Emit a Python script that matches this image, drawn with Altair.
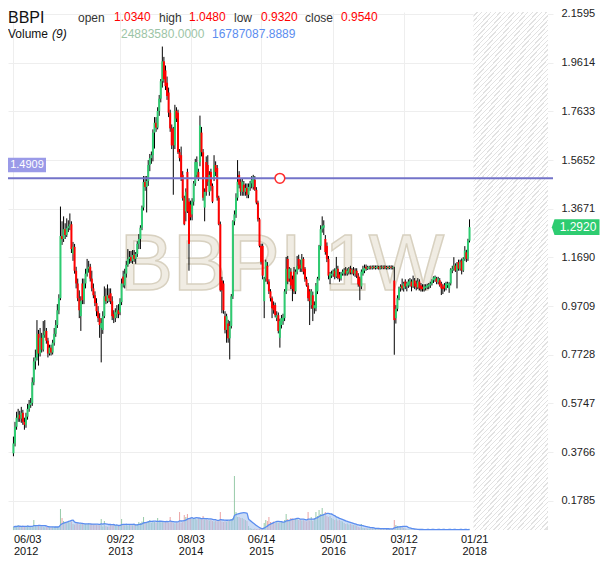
import altair as alt
import pandas as pd

symbol = "BBPI"
interval_label = "1W"
first_week = "2012-06-03"

open_ = [
    0.372, 0.412, 0.480, 0.517, 0.529, 0.513, 0.537, 0.500, 0.488, 0.521, 0.553, 0.569, 0.577, 0.661, 0.746, 0.762,
    0.858, 0.778, 0.842, 0.794, 0.854, 0.870, 0.830, 0.778, 0.802, 0.782, 0.822, 0.858, 0.894, 0.954, 1.003,
    1.256, 1.244, 1.284, 1.260, 1.288, 1.296, 1.304, 1.183, 1.212, 1.115, 1.063, 1.003, 0.930, 1.063, 0.995, 1.063,
    1.103, 1.123, 1.131, 1.083, 1.043, 1.015, 0.983, 0.950, 0.922, 0.882, 0.874, 0.930, 1.011, 0.991, 1.015, 1.023,
    0.991, 0.938, 0.922, 0.938, 0.954, 0.946, 0.987, 1.091, 1.055, 1.103, 1.139,
    1.163, 1.171, 1.155, 1.179, 1.163, 1.183, 1.224, 1.244, 1.290, 1.372, 1.476, 1.456, 1.480, 1.545, 1.573, 1.585,
    1.677, 1.717, 1.697, 1.765, 1.815, 1.886, 1.967, 1.930, 1.880,
    1.840, 1.758, 1.694, 1.694, 1.625, 1.766, 1.758, 1.597, 1.585, 1.505, 1.410, 1.356, 1.517, 1.396, 1.384, 1.344,
    1.396, 1.470, 1.505, 1.517, 1.557, 1.677, 1.597, 1.372, 1.557,
    1.545, 1.436, 1.517, 1.460, 1.493, 1.545, 1.533, 1.412, 1.304, 1.075, 1.063, 0.930, 0.874, 0.900, 0.840, 0.890,
    1.011, 1.316, 1.344, 1.412, 1.505, 1.477, 1.436, 1.465, 1.436, 1.452, 1.424,
    1.456, 1.470, 1.456, 1.485, 1.444, 1.392, 1.324, 1.216, 1.216, 0.991, 1.083, 1.135, 1.071, 1.031, 1.003, 0.975,
    0.975, 0.922, 0.934, 0.842, 0.894, 0.910, 0.922, 1.031, 1.163, 1.083, 1.111, 1.080,
    1.111, 1.031, 1.111, 1.163, 1.140, 1.123, 1.163, 1.123, 1.080, 1.055, 1.031, 0.975, 1.015, 0.962, 0.962, 1.031,
    1.083, 1.216, 1.284, 1.290, 1.244, 1.216, 1.163, 1.083, 1.095,
    1.103, 1.115, 1.091, 1.123, 1.100, 1.083, 1.103, 1.107, 1.119, 1.103, 1.111, 1.123, 1.107, 1.119, 1.103, 1.115,
    1.095, 1.083, 1.051, 1.103, 1.115, 1.131, 1.123, 1.125, 1.131, 1.125, 1.131, 1.126, 1.127, 1.131, 1.124, 1.131,
    1.127, 1.132, 1.125, 1.130, 1.126, 1.131, 1.127,
    1.075, 0.922, 0.960, 1.003, 1.043, 1.055, 1.043, 1.071, 1.051, 1.055, 1.063, 1.071, 1.051, 1.075, 1.063, 1.047,
    1.071, 1.055, 1.050, 1.040, 1.045, 1.047, 1.051,
    1.055, 1.063, 1.076, 1.080, 1.083, 1.069, 1.076, 1.063, 1.050, 1.056, 1.043, 1.056, 1.043, 1.063, 1.116, 1.123,
    1.136, 1.116, 1.150, 1.123, 1.156, 1.116, 1.163, 1.190, 1.163, 1.237,
]
high = [
    0.440, 0.500, 0.541, 0.553, 0.545, 0.561, 0.549, 0.517, 0.537, 0.573, 0.589, 0.597, 0.681, 0.762, 0.794, 0.914,
    0.874, 0.882, 0.862, 0.910, 0.914, 0.882, 0.842, 0.814, 0.814, 0.834, 0.882, 0.914, 0.979, 1.019, 1.376,
    1.316, 1.336, 1.308, 1.328, 1.320, 1.348, 1.316, 1.232, 1.224, 1.131, 1.083, 1.035, 1.011, 1.083, 1.083, 1.123,
    1.163, 1.155, 1.143, 1.115, 1.063, 1.031, 1.003, 0.971, 0.942, 0.922, 0.950, 1.051, 1.043, 1.059, 1.043, 1.043,
    1.011, 0.954, 0.962, 0.975, 0.979, 1.003, 1.083, 1.115, 1.123, 1.155, 1.203,
    1.195, 1.195, 1.199, 1.199, 1.191, 1.235, 1.264, 1.300, 1.380, 1.500, 1.500, 1.500, 1.565, 1.590, 1.600, 1.690,
    1.740, 1.740, 1.780, 1.830, 1.895, 2.027, 1.985, 1.950, 1.905,
    1.860, 1.770, 1.710, 1.700, 1.790, 1.780, 1.770, 1.610, 1.620, 1.520, 1.420, 1.450, 1.530, 1.410, 1.400, 1.410,
    1.480, 1.570, 1.580, 1.530, 1.746, 1.700, 1.610, 1.450, 1.580,
    1.585, 1.520, 1.530, 1.470, 1.585, 1.560, 1.545, 1.420, 1.315, 1.090, 1.075, 0.950, 0.940, 0.915, 0.910, 1.020,
    1.320, 1.360, 1.430, 1.565, 1.520, 1.490, 1.490, 1.480, 1.470, 1.470, 1.470,
    1.480, 1.500, 1.505, 1.500, 1.455, 1.400, 1.330, 1.225, 1.225, 1.090, 1.160, 1.150, 1.080, 1.040, 1.010, 0.990,
    0.985, 0.950, 0.945, 0.920, 0.935, 0.940, 1.040, 1.171, 1.175, 1.130, 1.125, 1.095,
    1.130, 1.120, 1.175, 1.180, 1.160, 1.183, 1.170, 1.130, 1.090, 1.065, 1.040, 1.040, 1.030, 0.990, 1.065, 1.090,
    1.220, 1.300, 1.336, 1.320, 1.260, 1.230, 1.175, 1.110, 1.115,
    1.120, 1.125, 1.171, 1.135, 1.110, 1.110, 1.120, 1.125, 1.130, 1.125, 1.130, 1.135, 1.125, 1.130, 1.125, 1.125,
    1.105, 1.090, 1.120, 1.135, 1.140, 1.140, 1.135, 1.135, 1.136, 1.136, 1.137, 1.136, 1.137, 1.135, 1.136, 1.137,
    1.136, 1.137, 1.135, 1.136, 1.136, 1.137, 1.136,
    1.131, 0.975, 1.015, 1.050, 1.060, 1.083, 1.070, 1.080, 1.070, 1.080, 1.085, 1.080, 1.095, 1.085, 1.075, 1.085,
    1.080, 1.065, 1.060, 1.060, 1.060, 1.062, 1.065,
    1.070, 1.080, 1.092, 1.095, 1.090, 1.090, 1.085, 1.070, 1.060, 1.065, 1.070, 1.070, 1.068, 1.125, 1.135, 1.170,
    1.145, 1.150, 1.160, 1.160, 1.165, 1.170, 1.215, 1.200, 1.245, 1.324,
]
low = [
    0.360, 0.400, 0.468, 0.500, 0.500, 0.496, 0.488, 0.468, 0.476, 0.509, 0.541, 0.557, 0.565, 0.649, 0.713, 0.750,
    0.729, 0.766, 0.782, 0.786, 0.842, 0.818, 0.762, 0.770, 0.770, 0.774, 0.810, 0.846, 0.882, 0.938, 0.995,
    1.220, 1.232, 1.244, 1.252, 1.272, 1.280, 1.187, 1.155, 1.103, 1.043, 0.991, 0.922, 0.870, 0.979, 0.979, 1.043,
    1.091, 1.107, 1.071, 1.031, 1.003, 0.971, 0.930, 0.906, 0.842, 0.742, 0.858, 0.922, 0.979, 0.983, 0.987, 0.979,
    0.914, 0.902, 0.906, 0.922, 0.922, 0.934, 0.975, 1.047, 1.043, 1.087, 1.131,
    1.143, 1.147, 1.143, 1.151, 1.143, 1.171, 1.203, 1.203, 1.280, 1.360, 1.440, 1.352, 1.460, 1.520, 1.550, 1.560,
    1.612, 1.680, 1.690, 1.745, 1.800, 1.860, 1.880, 1.850, 1.810,
    1.740, 1.680, 1.610, 1.424, 1.610, 1.720, 1.590, 1.560, 1.480, 1.400, 1.300, 1.316, 1.350, 1.115, 1.320, 1.320,
    1.380, 1.460, 1.490, 1.480, 1.540, 1.580, 1.400, 1.316, 1.420,
    1.460, 1.420, 1.440, 1.390, 1.480, 1.500, 1.400, 1.300, 1.030, 0.942, 0.940, 0.860, 0.822, 0.822, 0.754, 0.880,
    1.000, 1.300, 1.330, 1.400, 1.450, 1.420, 1.420, 1.420, 1.420, 1.410, 1.410,
    1.440, 1.450, 1.445, 1.440, 1.385, 1.315, 1.210, 1.140, 1.080, 0.922, 1.070, 1.060, 1.020, 0.990, 0.922, 0.940,
    0.925, 0.910, 0.860, 0.802, 0.880, 0.895, 0.910, 1.020, 1.060, 1.070, 1.040, 0.991,
    1.020, 1.020, 1.100, 1.120, 1.110, 1.110, 1.100, 1.070, 1.050, 0.991, 0.894, 0.960, 0.910, 0.940, 0.950, 1.020,
    1.075, 1.200, 1.270, 1.260, 1.180, 1.150, 1.080, 1.060, 1.085,
    1.090, 1.080, 1.085, 1.080, 1.070, 1.075, 1.095, 1.095, 1.095, 1.095, 1.100, 1.100, 1.100, 1.095, 1.090, 1.085,
    1.050, 0.995, 1.040, 1.095, 1.105, 1.115, 1.118, 1.120, 1.120, 1.120, 1.121, 1.120, 1.121, 1.120, 1.120, 1.121,
    1.121, 1.121, 1.120, 1.120, 1.121, 1.120, 1.120,
    0.773, 0.900, 0.950, 0.995, 1.030, 1.035, 1.030, 1.040, 1.031, 1.045, 1.050, 1.031, 1.045, 1.040, 1.035, 1.040,
    1.035, 1.030, 1.030, 1.030, 1.035, 1.040, 1.040,
    1.045, 1.055, 1.065, 1.070, 1.060, 1.060, 1.050, 1.016, 1.020, 1.030, 1.035, 1.045, 1.025, 1.055, 1.105, 1.115,
    1.110, 1.043, 1.115, 1.115, 1.100, 1.110, 1.155, 1.150, 1.155, 1.230,
]
close = [
    0.412, 0.480, 0.517, 0.529, 0.513, 0.537, 0.500, 0.488, 0.521, 0.553, 0.569, 0.577, 0.661, 0.746, 0.762, 0.858,
    0.778, 0.842, 0.794, 0.854, 0.870, 0.830, 0.778, 0.802, 0.782, 0.822, 0.858, 0.894, 0.954, 1.003, 1.256,
    1.244, 1.284, 1.260, 1.288, 1.296, 1.304, 1.203, 1.212, 1.115, 1.063, 1.003, 0.954, 0.991, 0.995, 1.063, 1.103,
    1.123, 1.131, 1.083, 1.043, 1.015, 0.983, 0.950, 0.922, 0.894, 0.902, 0.930, 1.011, 0.991, 1.015, 1.003, 0.991,
    0.930, 0.922, 0.946, 0.954, 0.938, 0.987, 1.063, 1.063, 1.103, 1.139, 1.163,
    1.171, 1.155, 1.179, 1.163, 1.183, 1.224, 1.244, 1.290, 1.372, 1.476, 1.456, 1.480, 1.545, 1.573, 1.585, 1.677,
    1.717, 1.697, 1.765, 1.815, 1.886, 1.967, 1.894, 1.866, 1.826,
    1.758, 1.694, 1.625, 1.625, 1.766, 1.734, 1.597, 1.573, 1.493, 1.410, 1.304, 1.436, 1.356, 1.224, 1.332, 1.396,
    1.470, 1.557, 1.557, 1.493, 1.706, 1.597, 1.412, 1.436, 1.436,
    1.477, 1.505, 1.460, 1.396, 1.545, 1.517, 1.412, 1.304, 1.035, 1.035, 0.954, 0.874, 0.930, 0.840, 0.890, 1.011,
    1.316, 1.344, 1.412, 1.477, 1.465, 1.436, 1.477, 1.436, 1.452, 1.424, 1.456,
    1.470, 1.485, 1.497, 1.444, 1.392, 1.324, 1.216, 1.151, 1.095, 1.083, 1.151, 1.071, 1.031, 1.003, 0.962, 0.954,
    0.934, 0.934, 0.870, 0.910, 0.922, 0.925, 1.031, 1.123, 1.071, 1.123, 1.055, 1.040,
    1.031, 1.111, 1.135, 1.123, 1.125, 1.163, 1.111, 1.080, 1.055, 1.003, 0.991, 1.031, 0.962, 0.975, 1.055, 1.083,
    1.216, 1.284, 1.296, 1.300, 1.191, 1.163, 1.095, 1.103, 1.103,
    1.115, 1.091, 1.123, 1.087, 1.083, 1.103, 1.111, 1.119, 1.103, 1.115, 1.123, 1.107, 1.119, 1.103, 1.115, 1.095,
    1.059, 1.051, 1.111, 1.123, 1.127, 1.123, 1.129, 1.131, 1.125, 1.131, 1.126, 1.130, 1.132, 1.124, 1.131, 1.127,
    1.132, 1.125, 1.130, 1.126, 1.131, 1.127, 1.130,
    0.914, 0.960, 1.003, 1.043, 1.050, 1.043, 1.063, 1.051, 1.063, 1.071, 1.075, 1.051, 1.075, 1.051, 1.047, 1.071,
    1.043, 1.040, 1.040, 1.050, 1.051, 1.055, 1.059,
    1.063, 1.076, 1.088, 1.090, 1.069, 1.083, 1.056, 1.043, 1.040, 1.043, 1.063, 1.063, 1.063, 1.120, 1.123, 1.136,
    1.116, 1.143, 1.123, 1.150, 1.116, 1.163, 1.197, 1.163, 1.237, 1.292,
]
# weekly volume, millions of shares
volume_m = [
    1.5, 2.0, 1.8, 2.5, 1.6, 1.7, 2.0, 1.5, 1.8, 2.2, 1.6, 1.8, 2.0, 5.0, 2.2, 1.8, 2.0, 1.6, 1.8,
    1.5, 1.4, 1.6, 1.5, 1.3, 1.4, 1.6, 1.5, 1.7, 1.6, 2.0,
    10.5, 6.0, 4.5,
    4.0, 3.5, 4.5, 3.8, 4.2,
    3.0, 2.8, 3.2, 3.5, 2.8, 3.0, 3.3, 2.7, 3.0, 2.9, 3.4, 2.6, 3.1, 2.8, 3.0, 2.5, 2.7, 2.4,
    5.5, 1.8, 4.5, 2.0, 1.6, 1.8,
    2.5, 2.3, 2.8, 2.4, 2.6, 2.2, 2.5, 5.5, 2.6, 2.4, 2.8, 2.3, 2.5, 2.7, 2.4, 2.6, 2.8, 3.0,
    4.0, 3.5, 4.2, 6.5, 4.0, 3.8, 4.5, 5.0, 3.6, 4.2, 4.0, 3.8, 6.0, 4.4, 3.9, 4.1, 3.7, 4.0, 4.3, 3.6, 6.5, 4.0,
    3.5, 3.2, 3.8, 3.4, 9.0, 3.6, 4.0,
    7.5, 6.5, 8.0, 5.5, 6.0, 5.8,
    5.5, 5.8, 5.2, 6.0, 5.6, 5.4, 7.0, 5.3, 5.5, 5.0, 4.8, 5.2,
    4.5, 4.3, 4.8, 4.4, 4.6, 9.0, 4.2, 4.0, 4.4, 4.1,
    4.5, 5.0, 5.5,
    6.0, 27.0, 9.0, 6.5, 6.5, 6.0, 6.0, 5.5, 5.0, 4.5, 2.0, 1.0,
    0.6, 0.5, 0.7, 0.5, 0.6, 0.8, 0.7, 1.0,
    3.5, 5.0, 4.5, 6.5, 4.0, 3.8, 4.2, 3.5, 4.0, 3.6, 3.8, 4.5, 4.0,
    5.0, 8.0, 5.5, 5.0, 6.0, 5.8, 5.2, 5.5, 6.0, 5.0, 5.3, 4.8, 5.0,
    4.5, 4.2, 9.0, 4.8, 6.5, 4.5,
    6.0, 9.0, 7.0, 10.0, 8.0, 11.0, 7.5, 9.0, 7.0, 6.5, 7.0, 6.0,
    5.5, 5.0, 5.8, 4.8, 5.0, 4.5, 4.2,
    3.5, 3.0, 3.2, 2.8, 3.0, 2.6, 2.5, 2.4, 2.2,
    1.5, 1.2, 3.0, 1.0, 0.9, 1.0, 0.8, 0.9, 0.7, 0.8, 0.6, 0.7, 0.8, 0.6, 0.7, 0.5, 0.6, 0.7, 0.5, 0.6, 0.5, 0.6, 0.5,
    5.0, 2.5, 2.0, 1.8, 1.5, 1.2, 1.0, 0.8,
    0.3, 0.2, 0.3, 0.2, 0.25, 0.2, 0.3, 0.2, 0.2, 0.3, 0.2, 0.25, 0.2, 0.3, 0.2, 0.2, 0.3, 0.2, 0.25, 0.2,
    0.3, 0.2, 0.2, 0.3, 0.2, 0.25, 0.2, 0.3, 0.2, 0.2, 0.3, 0.2, 0.25, 0.2, 0.3, 0.2, 0.2, 0.3, 0.2, 0.25, 0.3,
]

price_ticks = [0.1785, 0.3766, 0.5747, 0.7728, 0.9709, 1.1690, 1.3671, 1.5652, 1.7633, 1.9614, 2.1595]
date_ticks = [(2012, 6, 3), (2013, 9, 22), (2014, 8, 3), (2015, 6, 14), (2016, 5, 1), (2017, 3, 12), (2018, 1, 21)]
ref_line_price = 1.4909
ref_marker_date = "2015-09-06T12:00:00"
last_price = 1.2920
header_ohlc = [("open", "1.0340"), ("high", "1.0480"), ("low", "0.9320"), ("close", "0.9540")]
volume_header = ["24883580.0000", "16787087.8889"]

UP = "#2ecc71"
DOWN = "#ff0000"
FONT = "Liberation Sans"
W, H = 545, 518

n = min(len(open_), len(high), len(low), len(close), len(volume_m))
dates = list(pd.date_range(first_week, periods=n, freq="7D").strftime("%Y-%m-%dT12:00:00"))
df = pd.DataFrame({
    "date": dates, "open": open_[:n], "high": high[:n], "low": low[:n],
    "close": close[:n], "vol": volume_m[:n],
})

x_scale = alt.Scale(domain=[alt.DateTime(year=2012, month=6, date=1, hours=12),
                            alt.DateTime(year=2018, month=12, date=17)])
price_scale = alt.Scale(domain=[0.06, 2.1676], nice=False, zero=False)
vol_scale = alt.Scale(domain=[0, 259], nice=False)

x_axis = alt.Axis(
    values=[alt.DateTime(year=y, month=m, date=d, hours=12) for y, m, d in date_ticks],
    labelExpr="[timeFormat(datum.value, '%m/%d'), timeFormat(datum.value, '%Y')]",
    grid=True, gridColor="#eeeeee", ticks=False, domain=False,
    labelFontSize=11, labelColor="#111111", labelFont=FONT, labelPadding=3,
    labelLineHeight=12, labelBaseline="top", labelFlush=False, labelOverlap=False, title=None,
    labelAlign={"condition": {"test": "datum.value < datetime(2012, 5, 10)", "value": "left"},
                "value": "center"},
)
y_axis = alt.Axis(
    orient="right", values=price_ticks, format=".4f", grid=True, gridColor="#eeeeee",
    ticks=False, domain=False, labelFontSize=11, labelColor="#222222", labelFont=FONT,
    labelPadding=8, title=None,
)
up_down = alt.condition("datum.close >= datum.open", alt.value(UP), alt.value(DOWN))


def xenc(field):
    return alt.X(field, scale=x_scale, axis=x_axis)


# hatched "future" zone
n_str = 122
stops = []
for k in range(n_str):
    a, b, c = k / n_str, (k + 0.72) / n_str, (k + 1) / n_str
    stops += [{"offset": a, "color": "#ffffff"}, {"offset": b, "color": "#ffffff"},
              {"offset": b, "color": "#e2e2e2"}, {"offset": c, "color": "#e2e2e2"}]
hatch_fill = {"gradient": "linear", "x1": 0, "y1": 0, "x2": 0.17, "y2": 1.12, "stops": stops}
hatch = alt.Chart(pd.DataFrame({"start": ["2018-01-18T00:00:00"], "end": ["2018-12-17T00:00:00"]})).mark_rect(
    fill=hatch_fill).encode(x=xenc("start:T"), x2="end:T", y=alt.value(0), y2=alt.value(H))

watermark = alt.Chart(pd.DataFrame({"t": [f"{symbol} {interval_label}"]})).mark_text(
    fontSize=80, font=FONT, fill="#f0ece3", stroke="#d8d1c0", strokeWidth=1.5,
    align="center", baseline="alphabetic").encode(x=alt.value(274), y=alt.value(278), text="t:N")

# volume underlay
vbars = alt.Chart(df).mark_bar(size=1, opacity=0.9).encode(
    x=xenc("date:T"),
    y=alt.Y("vol:Q", scale=vol_scale, axis=None),
    color=alt.condition("datum.close >= datum.open", alt.value("#8cc4a0"), alt.value("#e99a9a")),
)
ma_base = alt.Chart(df).transform_window(ma="mean(vol)", frame=[-8, 0], sort=[alt.SortField("date")])
varea = ma_base.mark_area(color="#a9c4ef", opacity=0.6, interpolate="monotone").encode(
    x=xenc("date:T"), y=alt.Y("ma:Q", scale=vol_scale, axis=None))
vline = ma_base.mark_line(color="#5b8def", strokeWidth=1.3, interpolate="monotone").encode(
    x=xenc("date:T"), y=alt.Y("ma:Q", scale=vol_scale, axis=None))

# candles
wick = alt.Chart(df).mark_rule(color="#000000", strokeWidth=1).encode(
    x=xenc("date:T"), y=alt.Y("low:Q", scale=price_scale, axis=y_axis), y2="high:Q")
body = alt.Chart(df).mark_bar(size=2).encode(
    x=xenc("date:T"), y=alt.Y("open:Q", scale=price_scale, axis=None), y2="close:Q", color=up_down)

hline = alt.Chart(pd.DataFrame({"p": [ref_line_price]})).mark_rule(color="#7373c9", strokeWidth=2).encode(
    y=alt.Y("p:Q", scale=price_scale, axis=None))
box_path = "M-1,-0.38 L1,-0.38 L1,0.38 L-1,0.38 Z"
hl_df = pd.DataFrame({"t": [f"{ref_line_price:.4f}"]})
hl_box = alt.Chart(hl_df).mark_point(
    shape=box_path, size=1444, filled=True, color="#9a9ae8", opacity=1).encode(
    x=alt.value(19), y=alt.value(153))
hl_txt = alt.Chart(hl_df).mark_text(
    color="white", fontSize=11, font=FONT, align="center", baseline="middle").encode(
    x=alt.value(19), y=alt.value(153), text="t:N")
marker = alt.Chart(pd.DataFrame({"d": [ref_marker_date], "p": [ref_line_price]})).mark_point(
    shape="circle", size=95, filled=True, fill="#ffffff", stroke="#ff2b2b", strokeWidth=1.5, opacity=1).encode(
    x=xenc("d:T"), y=alt.Y("p:Q", scale=price_scale, axis=None))

tag_path = "M-1.12,0 L-1,-0.35 L1,-0.35 L1,0.35 L-1,0.35 Z"
last_df = pd.DataFrame({"p": [last_price], "t": [f"{last_price:.4f}"]})
last_box = alt.Chart(last_df).mark_point(shape=tag_path, size=2025, filled=True, color=UP, opacity=1).encode(
    x=alt.value(569), y=alt.Y("p:Q", scale=price_scale, axis=None))
last_txt = alt.Chart(last_df).mark_text(color="white", fontSize=12, font=FONT, align="center",
                                        baseline="middle").encode(
    x=alt.value(570), y=alt.Y("p:Q", scale=price_scale, axis=None), text="t:N")


def label(text, x, y, size=12, color="#333333", italic=False):
    return alt.Chart(pd.DataFrame({"t": [text]})).mark_text(
        align="left", baseline="middle", fontSize=size, font=FONT, color=color,
        fontStyle="italic" if italic else "normal").encode(x=alt.value(x), y=alt.value(y), text="t:N")


label_x = [70, 151, 226, 297]
value_x = [106, 181, 253, 333]
headers = [label(symbol, 0, 6, size=16, color="#111111")]
for (name, val), lx, vx in zip(header_ohlc, label_x, value_x):
    headers.append(label(name, lx, 6, color="#333333"))
    headers.append(label(val, vx, 5, color="#ff0000"))
headers.append(label("Volume", 0, 22, color="#111111"))
headers.append(label("(9)", 44, 22, color="#111111", italic=True))
headers.append(label(volume_header[0], 113, 22, color="#9cc4a6"))
headers.append(label(volume_header[1], 204, 22, color="#5b8def"))

chart = alt.layer(
    hatch, watermark, vbars, varea, vline, wick, body, hline, hl_box, hl_txt, marker,
    last_box, last_txt, *headers,
).resolve_scale(y="independent").properties(
    width=W, height=H, background="white",
    padding={"left": 0, "top": 4, "right": 47, "bottom": 28},
    autosize=alt.AutoSizeParams(type="none"),
).configure_view(strokeWidth=0)

chart.save("out.html", embed_options={"renderer": "svg", "actions": False})
